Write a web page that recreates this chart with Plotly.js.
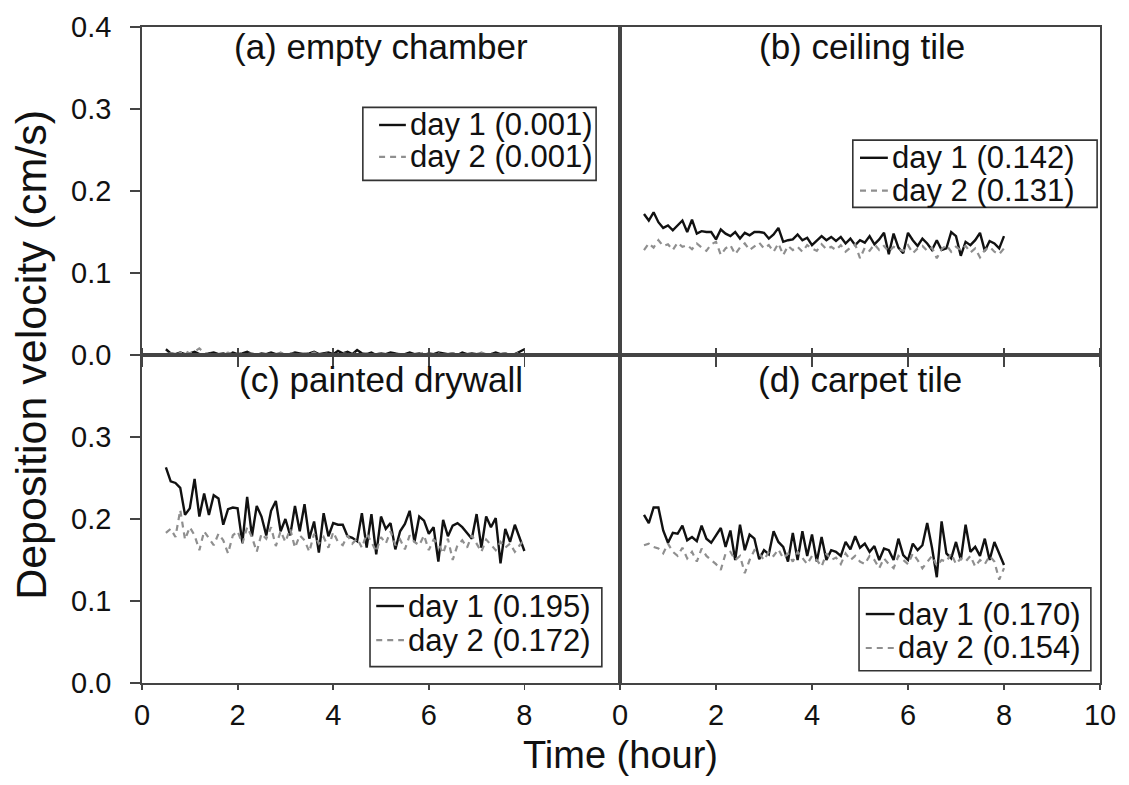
<!DOCTYPE html>
<html>
<head>
<meta charset="utf-8">
<script src="https://cdn.plot.ly/plotly-3.0.1.min.js"></script>
<style>html,body{margin:0;padding:0;background:#fff;}#chart{width:1129px;height:785px;}</style>
</head>
<body>
<div id="chart"></div>
<script>
// Time (hour)
const time = [
  0.5,0.6,0.7,0.8,0.9,1.0,1.1,1.2,1.3,1.4,
  1.5,1.6,1.7,1.8,1.9,2.0,2.1,2.2,2.3,2.4,
  2.5,2.6,2.7,2.8,2.9,3.0,3.1,3.2,3.3,3.4,
  3.5,3.6,3.7,3.8,3.9,4.0,4.1,4.2,4.3,4.4,
  4.5,4.6,4.7,4.8,4.9,5.0,5.1,5.2,5.3,5.4,
  5.5,5.6,5.7,5.8,5.9,6.0,6.1,6.2,6.3,6.4,
  6.5,6.6,6.7,6.8,6.9,7.0,7.1,7.2,7.3,7.4,
  7.5,7.6,7.7,7.8,7.9,8.0
];

// (a) empty chamber
const emptyDay1 = [
  0.007,0.002,0.001,0.003,0.001,0.002,0.004,0.001,0.000,0.002,
  0.003,0.001,0.002,0.000,0.003,0.001,0.002,0.004,0.001,0.000,
  0.002,0.001,0.003,0.001,0.002,0.000,0.001,0.003,0.002,0.001,
  0.002,0.004,0.001,0.002,0.003,0.001,0.005,0.002,0.004,0.001,
  0.006,0.002,0.001,0.003,0.000,0.002,0.001,0.003,0.002,0.000,
  0.001,0.003,0.001,0.002,0.000,0.002,0.001,0.003,0.002,0.001,
  0.002,0.000,0.003,0.001,0.002,0.001,0.002,0.000,0.001,0.003,
  0.001,0.002,0.000,0.001,0.004,0.007
];
const emptyDay2 = [
  0.001,0.002,0.000,0.003,0.005,0.002,0.004,0.008,0.003,0.001,
  0.002,0.000,0.001,0.003,0.001,0.002,0.000,0.001,0.002,0.001,
  0.000,0.002,0.001,0.001,0.003,0.000,0.002,0.001,0.000,0.002,
  0.001,0.003,0.000,0.001,0.002,0.001,0.000,0.002,0.001,0.003,
  0.000,0.001,0.002,0.000,0.001,0.003,0.001,0.000,0.002,0.001,
  0.001,0.000,0.002,0.001,0.003,0.000,0.001,0.002,0.000,0.001,
  0.002,0.001,0.000,0.002,0.001,0.000,0.003,0.001,0.002,0.000,
  0.001,0.002,0.000,0.001,0.003,0.001
];

// (b) ceiling tile
const ceilingDay1 = [
  0.172,0.164,0.174,0.162,0.155,0.158,0.152,0.158,0.164,0.150,
  0.165,0.148,0.151,0.150,0.150,0.141,0.153,0.148,0.145,0.150,
  0.142,0.149,0.146,0.150,0.150,0.149,0.142,0.147,0.155,0.138,
  0.140,0.141,0.147,0.140,0.143,0.134,0.140,0.145,0.140,0.144,
  0.139,0.144,0.136,0.142,0.134,0.140,0.137,0.145,0.135,0.141,
  0.149,0.123,0.148,0.131,0.124,0.149,0.140,0.133,0.142,0.136,
  0.128,0.140,0.128,0.130,0.150,0.145,0.121,0.138,0.134,0.140,
  0.149,0.127,0.139,0.136,0.130,0.145
];
const ceilingDay2 = [
  0.128,0.136,0.131,0.140,0.133,0.135,0.128,0.137,0.132,0.134,
  0.129,0.136,0.131,0.127,0.135,0.138,0.122,0.130,0.134,0.123,
  0.131,0.136,0.128,0.133,0.137,0.130,0.134,0.126,0.136,0.122,
  0.133,0.128,0.132,0.126,0.134,0.130,0.127,0.135,0.129,0.132,
  0.128,0.134,0.126,0.131,0.135,0.118,0.131,0.127,0.135,0.128,
  0.133,0.126,0.132,0.129,0.127,0.134,0.124,0.130,0.133,0.127,
  0.131,0.118,0.129,0.134,0.126,0.132,0.128,0.133,0.125,0.130,
  0.119,0.128,0.132,0.126,0.123,0.130
];

// (c) painted drywall
const drywallDay1 = [
  0.263,0.246,0.244,0.238,0.205,0.213,0.249,0.203,0.231,0.205,
  0.229,0.225,0.193,0.212,0.214,0.213,0.171,0.227,0.179,0.216,
  0.203,0.180,0.210,0.222,0.185,0.200,0.180,0.216,0.185,0.218,
  0.176,0.197,0.159,0.207,0.179,0.195,0.193,0.193,0.179,0.177,
  0.173,0.207,0.165,0.206,0.157,0.203,0.188,0.195,0.163,0.185,
  0.194,0.210,0.172,0.203,0.198,0.182,0.190,0.148,0.199,0.179,
  0.192,0.195,0.190,0.183,0.176,0.206,0.165,0.203,0.190,0.201,
  0.146,0.188,0.172,0.193,0.178,0.161
];
const drywallDay2 = [
  0.183,0.188,0.178,0.211,0.175,0.190,0.180,0.162,0.185,0.176,
  0.168,0.182,0.174,0.158,0.180,0.185,0.170,0.190,0.178,0.160,
  0.182,0.176,0.190,0.167,0.185,0.172,0.188,0.165,0.180,0.174,
  0.160,0.182,0.170,0.178,0.165,0.184,0.172,0.168,0.180,0.170,
  0.176,0.165,0.182,0.172,0.160,0.178,0.170,0.185,0.168,0.175,
  0.163,0.180,0.172,0.168,0.180,0.162,0.175,0.170,0.158,0.176,
  0.150,0.168,0.174,0.165,0.180,0.170,0.160,0.175,0.168,0.162,
  0.172,0.165,0.170,0.160,0.168,0.175
];

// (d) carpet tile
const carpetDay1 = [
  0.205,0.195,0.214,0.214,0.186,0.171,0.183,0.182,0.192,0.174,
  0.178,0.173,0.192,0.176,0.171,0.180,0.189,0.166,0.186,0.150,
  0.193,0.162,0.181,0.176,0.151,0.162,0.157,0.185,0.172,0.166,
  0.148,0.183,0.150,0.185,0.155,0.181,0.148,0.178,0.150,0.162,
  0.160,0.155,0.172,0.163,0.179,0.165,0.170,0.160,0.167,0.150,
  0.164,0.162,0.150,0.176,0.156,0.150,0.170,0.162,0.168,0.195,
  0.165,0.129,0.197,0.158,0.152,0.172,0.150,0.193,0.160,0.166,
  0.155,0.176,0.150,0.172,0.158,0.144
];
const carpetDay2 = [
  0.168,0.170,0.166,0.164,0.158,0.170,0.160,0.155,0.165,0.152,
  0.160,0.148,0.164,0.155,0.150,0.145,0.138,0.158,0.160,0.150,
  0.155,0.134,0.150,0.162,0.158,0.150,0.160,0.155,0.163,0.152,
  0.158,0.148,0.160,0.152,0.145,0.155,0.150,0.142,0.158,0.150,
  0.153,0.145,0.158,0.150,0.155,0.148,0.145,0.155,0.150,0.140,
  0.152,0.145,0.140,0.155,0.150,0.145,0.158,0.150,0.140,0.148,
  0.155,0.143,0.150,0.148,0.158,0.145,0.152,0.148,0.155,0.142,
  0.150,0.145,0.155,0.148,0.126,0.140
];

const panelTitles = ["(a) empty chamber", "(b) ceiling tile", "(c) painted drywall", "(d) carpet tile"];
const day1Means = ["0.001", "0.142", "0.195", "0.170"];
const day2Means = ["0.001", "0.131", "0.172", "0.154"];

const xTicksLeft = [0, 2, 4, 6, 8];
const xTicksRight = [0, 2, 4, 6, 8, 10];
const yTicksTop = [0, 0.1, 0.2, 0.3, 0.4];
const yTicksBottom = [0, 0.1, 0.2, 0.3];

const day1Series = [emptyDay1, ceilingDay1, drywallDay1, carpetDay1];
const day2Series = [emptyDay2, ceilingDay2, drywallDay2, carpetDay2];

const FONT = "Liberation Sans, Arial, sans-serif";
const DAY1 = {color: "#111111", width: 2.4};
const DAY2 = {color: "#8f8f8f", width: 2.2, dash: "6px,5px"};
const axisSuffix = ["", "2", "3", "4"];

const traces = [];
for (let i = 0; i < 4; i++) {
  traces.push({
    x: time, y: day1Series[i], type: "scatter", mode: "lines",
    name: "day 1 (" + day1Means[i] + ")", line: DAY1,
    xaxis: "x" + axisSuffix[i], yaxis: "y" + axisSuffix[i],
    showlegend: false, hoverinfo: "skip"
  });
  traces.push({
    x: time, y: day2Series[i], type: "scatter", mode: "lines",
    name: "day 2 (" + day2Means[i] + ")", line: DAY2,
    xaxis: "x" + axisSuffix[i], yaxis: "y" + axisSuffix[i],
    showlegend: false, hoverinfo: "skip"
  });
}

const AX = {
  showline: true, linecolor: "#444", linewidth: 1.8, mirror: true,
  showgrid: false, zeroline: false, ticks: "outside", ticklen: 5,
  tickcolor: "#444", tickwidth: 1.8,
  tickfont: {family: FONT, size: 29, color: "#111"}, range: [0, 10]
};
const YAX = Object.assign({}, AX, {range: [0, 0.4], ticklen: 10, ticklabelstandoff: 13});
const split = 478 / 958;

function fmt(v) { return v.toFixed(1); }

// legend boxes (panel coordinates): [x0, x1, y0, y1, row1 y, row2 y, sample x0, sample x1, text x]
const legendBoxes = [
  [4.62, 9.50, 0.213, 0.302, 0.2805, 0.2415, 4.96, 5.52, 5.56],
  [4.85, 9.94, 0.180, 0.262, 0.2405, 0.2005, 5.00, 5.58, 5.62],
  [4.77, 9.62, 0.020, 0.116, 0.0939, 0.0524, 4.90, 5.48, 5.52],
  [4.98, 9.81, 0.015, 0.116, 0.0841, 0.0427, 5.12, 5.72, 5.76]
];
const titlePos = [[5.0, 0.376], [5.05, 0.376], [5.0, 0.370], [5.0, 0.370]];

const shapes = [];
const annotations = [];
for (let i = 0; i < 4; i++) {
  const xr = "x" + axisSuffix[i], yr = "y" + axisSuffix[i];
  const b = legendBoxes[i];
  shapes.push({type: "rect", xref: xr, yref: yr, x0: b[0], x1: b[1], y0: b[2], y1: b[3],
               line: {color: "#333", width: 1.6}, fillcolor: "rgba(255,255,255,0)"});
  shapes.push({type: "line", xref: xr, yref: yr, x0: b[6], x1: b[7], y0: b[4], y1: b[4], line: DAY1});
  shapes.push({type: "line", xref: xr, yref: yr, x0: b[6], x1: b[7], y0: b[5], y1: b[5], line: DAY2});
  annotations.push({text: "day 1 (" + day1Means[i] + ")", xref: xr, yref: yr, x: b[8], y: b[4],
                    xanchor: "left", yanchor: "middle", showarrow: false,
                    font: {family: FONT, size: 31, color: "#111"}});
  annotations.push({text: "day 2 (" + day2Means[i] + ")", xref: xr, yref: yr, x: b[8], y: b[5],
                    xanchor: "left", yanchor: "middle", showarrow: false,
                    font: {family: FONT, size: 31, color: "#111"}});
  annotations.push({text: panelTitles[i], xref: xr, yref: yr, x: titlePos[i][0], y: titlePos[i][1],
                    xanchor: "center", yanchor: "middle", showarrow: false,
                    font: {family: FONT, size: 35, color: "#111"}});
}
annotations.push({text: "Deposition velocity (cm/s)", xref: "paper", yref: "paper", x: -0.116, y: 0.5,
                  xanchor: "center", yanchor: "middle", textangle: -90, showarrow: false,
                  font: {family: FONT, size: 43, color: "#111"}});
annotations.push({text: "Time (hour)", xref: "paper", yref: "paper", x: 0.499, y: -0.11,
                  xanchor: "center", yanchor: "middle", showarrow: false,
                  font: {family: FONT, size: 38, color: "#111"}});

const layout = {
  width: 1129, height: 785,
  margin: {l: 142, r: 29, t: 27, b: 102},
  paper_bgcolor: "#fff", plot_bgcolor: "#fff",
  showlegend: false,
  xaxis: Object.assign({}, AX, {domain: [0, split], anchor: "y", showticklabels: false, ticklen: 10}),
  yaxis: Object.assign({}, YAX, {domain: [0.5, 1], anchor: "x", tickvals: yTicksTop, ticktext: yTicksTop.map(fmt)}),
  xaxis2: Object.assign({}, AX, {domain: [split, 1], anchor: "y2", showticklabels: false, ticklen: 10}),
  yaxis2: Object.assign({}, YAX, {domain: [0.5, 1], anchor: "x2", showticklabels: false, ticks: ""}),
  xaxis3: Object.assign({}, AX, {domain: [0, split], anchor: "y3", mirror: "ticks", tickvals: xTicksLeft, ticktext: xTicksLeft.map(String)}),
  yaxis3: Object.assign({}, YAX, {domain: [0, 0.5], anchor: "x3", tickvals: yTicksBottom, ticktext: yTicksBottom.map(fmt)}),
  xaxis4: Object.assign({}, AX, {domain: [split, 1], anchor: "y4", mirror: "ticks", tickvals: xTicksRight, ticktext: xTicksRight.map(String)}),
  yaxis4: Object.assign({}, YAX, {domain: [0, 0.5], anchor: "x4", showticklabels: false, ticks: ""}),
  shapes: shapes,
  annotations: annotations
};

Plotly.newPlot("chart", traces, layout, {staticPlot: true, displayModeBar: false});
</script>
</body>
</html>
